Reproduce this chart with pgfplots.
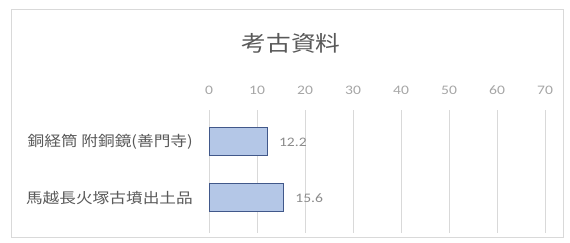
\documentclass[border=0pt]{standalone}
\usepackage{pgfplots}
\pgfplotsset{compat=1.18}
\usepackage{fontspec}
\setmainfont{Carlito}[FakeStretch=1.2]
\newfontfamily\jp{Noto Sans CJK JP}[FakeStretch=1.15]
\definecolor{barfill}{HTML}{B4C7E7}
\definecolor{baredge}{HTML}{41588A}
\definecolor{gridc}{HTML}{D9D9D9}
\definecolor{ticktext}{HTML}{A6A6A6}
\definecolor{datatext}{HTML}{8C8C8C}
\definecolor{labtext}{HTML}{595959}
\begin{document}
\begin{tikzpicture}[x=1pt,y=1pt]
\path[use as bounding box] (0,0) rectangle (570,242);
\draw[color=gridc, line width=0.8pt] (11,5) rectangle (563,233);
\node[font=\jp\fontsize{21.5}{21.5}\selectfont, text=labtext] at (291,198.5) {考古資料};
\begin{axis}[
  at={(209pt,9pt)}, anchor=south west, scale only axis,
  width=336pt, height=123pt,
  xbar, bar width=28pt,
  xmin=0, xmax=70, ymin=-0.57, ymax=1.625, y dir=reverse,
  xtick={0,10,...,70}, ytick={0,1},
  yticklabels={銅経筒 附銅鏡(善門寺), 馬越長火塚古墳出土品},
  xmajorgrids, grid style={color=gridc, line width=0.8pt},
  axis line style={draw=none}, major tick length=0pt,
  xticklabel pos=upper,
  /pgf/number format/assume math mode=true,
  xticklabel style={font=\fontsize{13}{13}\selectfont, text=ticktext, anchor=center, yshift=20pt},
  yticklabel style={font=\jp\fontsize{14.5}{14.5}\selectfont, text=labtext, anchor=east, inner sep=0pt, xshift=-16pt},
  nodes near coords,
  point meta=x,
  nodes near coords style={font=\fontsize{13}{13}\selectfont, text=datatext, anchor=west, inner sep=0pt, xshift=11pt},
]
\addplot[fill=barfill, draw=baredge, line width=1pt] coordinates {(12.2,0) (15.6,1)};
\end{axis}
\end{tikzpicture}
\end{document}
